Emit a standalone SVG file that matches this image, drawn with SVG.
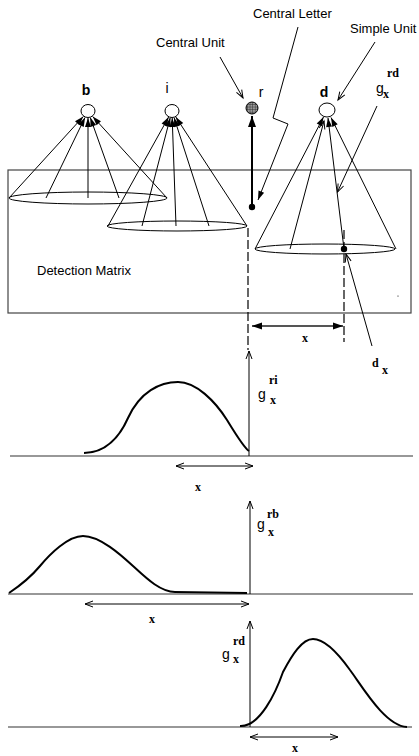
<svg xmlns="http://www.w3.org/2000/svg" width="419" height="756" viewBox="0 0 419 756">
<style>
.s{font-family:"Liberation Sans",Arial,sans-serif;font-size:13px;fill:#000}
.n{font-family:"Liberation Sans",Arial,sans-serif;font-size:14px;fill:#000}
.g{font-family:"Liberation Sans",Arial,sans-serif;font-size:14px;fill:#000}
.b{font-family:"Liberation Serif","Times New Roman",serif;font-weight:bold;font-size:12px;fill:#000}
.ln{stroke:#000;stroke-width:1;fill:none}
.cone{stroke:#000;stroke-width:1;fill:none;marker-end:url(#fa)}
.curve{stroke:#000;stroke-width:2;fill:none}
.base{stroke:#333;stroke-width:1.2;fill:none}
.dash{stroke:#000;stroke-width:1.2;stroke-dasharray:9,3;fill:none}
</style>
<defs>
<marker id="fa" markerUnits="userSpaceOnUse" markerWidth="10" markerHeight="6" refX="9" refY="3" orient="auto" overflow="visible"><path d="M0,0 L9,3 L0,6 z" fill="#000"/></marker>
<marker id="fab" markerUnits="userSpaceOnUse" markerWidth="12" markerHeight="8" refX="11" refY="4" orient="auto" overflow="visible"><path d="M0,0 L11,4 L0,8 z" fill="#000"/></marker>
<marker id="fx" markerUnits="userSpaceOnUse" markerWidth="11" markerHeight="7" refX="10" refY="3.5" orient="auto-start-reverse" overflow="visible"><path d="M0,0 L10,3.5 L0,7 z" fill="#000"/></marker>
<marker id="oa" markerUnits="userSpaceOnUse" markerWidth="9" markerHeight="6" refX="8" refY="3" orient="auto-start-reverse" overflow="visible"><path d="M0,0 L8,3 L0,6" fill="none" stroke="#000" stroke-width="1"/></marker>
<pattern id="grid" patternUnits="userSpaceOnUse" width="2.6" height="2.6"><rect width="2.6" height="2.6" fill="#999"/><path d="M0,0 H2.6 M0,0 V2.6" stroke="#222" stroke-width="0.9"/></pattern>
</defs>

<!-- Detection matrix -->
<g id="matrix">
<rect x="8" y="170" width="403" height="143" fill="none" stroke="#444" stroke-width="1.2"/>
<text class="s" x="37" y="275">Detection Matrix</text>
<circle cx="398" cy="296" r="0.6" fill="#000"/>
</g>

<!-- Nodes -->
<g id="node-b">
<text class="n" x="86" y="95" text-anchor="middle" font-weight="bold">b</text>
<ellipse cx="88" cy="111" rx="7" ry="6.5" fill="#fff" stroke="#000"/>
<ellipse cx="88" cy="198" rx="79" ry="6" class="ln"/>
</g>
<g id="node-i">
<text class="n" x="167" y="93" text-anchor="middle">i</text>
<ellipse cx="172" cy="111" rx="7" ry="6.5" fill="#fff" stroke="#000"/>
<ellipse cx="177" cy="226" rx="70" ry="5" class="ln"/>
</g>
<g id="node-r">
<text class="n" x="261" y="97" text-anchor="middle">r</text>
<circle cx="252" cy="108" r="6" fill="url(#grid)" stroke="#000"/>
<circle cx="252" cy="207" r="3.2" fill="#000"/>
</g>
<g id="node-d">
<text class="n" x="324" y="97" text-anchor="middle" font-weight="bold">d</text>
<ellipse cx="327" cy="110" rx="8" ry="7" fill="#fff" stroke="#000"/>
<ellipse cx="325" cy="249" rx="70" ry="5" class="ln"/>
<circle cx="344" cy="249" r="3.2" fill="#000"/>
</g>

<!-- Labels -->
<g id="labels">
<text class="s" x="156" y="47">Central Unit</text>
<text class="s" x="253" y="18">Central Letter</text>
<text class="s" x="350" y="33">Simple Unit</text>
<text class="g" x="376" y="93">g</text>
<text class="b" x="387" y="77">rd</text>
<text class="b" x="383" y="98">x</text>
<text class="b" x="372" y="367" font-size="13">d</text>
<text class="b" x="382" y="374">x</text>
<text class="b" x="302" y="342">x</text>
</g>

<!-- Connectors -->
<g id="connectors">
<!-- cone b -->
<line class="cone" x1="9" y1="198" x2="83.3" y2="116.5"/>
<line class="cone" x1="46" y1="198" x2="85" y2="117.5"/>
<line class="cone" x1="88" y1="198" x2="88" y2="118"/>
<line class="cone" x1="119" y1="198" x2="90.3" y2="117.6"/>
<line class="cone" x1="167" y1="198" x2="92.7" y2="116.5"/>
<!-- cone i -->
<line class="cone" x1="108" y1="226" x2="168.6" y2="117.1"/>
<line class="cone" x1="142" y1="226" x2="170.2" y2="117.8"/>
<line class="cone" x1="176" y1="226" x2="172.2" y2="118"/>
<line class="cone" x1="209" y1="226" x2="174.1" y2="117.7"/>
<line class="cone" x1="247" y1="226" x2="175.8" y2="117"/>
<!-- cone d -->
<line class="cone" x1="255" y1="249" x2="323.5" y2="117"/>
<line class="ln" x1="290" y1="249" x2="324" y2="121" marker-end="url(#oa)"/>
<line class="cone" x1="344" y1="249" x2="328" y2="118"/>
<line class="cone" x1="396" y1="249" x2="331" y2="117.5"/>
<!-- r thick arrow -->
<line x1="252" y1="205" x2="252" y2="116" stroke="#000" stroke-width="2" marker-end="url(#fab)"/>
<!-- pointer arrows -->
<line class="ln" x1="220" y1="57" x2="243" y2="98" marker-end="url(#oa)"/>
<line class="ln" x1="375" y1="42" x2="338" y2="100" marker-end="url(#oa)"/>
<polyline class="ln" points="298,27 273,118 288,124 258,200" marker-end="url(#fa)"/>
<line class="ln" x1="377" y1="106" x2="337.5" y2="192" marker-end="url(#oa)"/>
<line class="ln" x1="372" y1="346" x2="346" y2="254" marker-end="url(#oa)"/>
<!-- dashed guides -->
<line class="dash" x1="248" y1="228" x2="248" y2="350"/>
<line class="dash" x1="344" y1="230" x2="344" y2="342"/>
<!-- x span -->
<line x1="252" y1="326" x2="343" y2="326" stroke="#555" stroke-width="2" marker-start="url(#fx)" marker-end="url(#fx)"/>
</g>

<!-- Graph 1: g^ri -->
<g id="graph-ri">
<line class="base" x1="10" y1="456" x2="413" y2="456"/>
<line class="ln" x1="249" y1="456" x2="249" y2="351" marker-end="url(#oa)"/>
<path class="curve" d="M84,453 C106,453 120,436 128,418 C140,391.6 160,382 178,382 C196,382 215,401 227,420 C235,433 244,448 249,451"/>
<text class="g" x="258" y="399">g</text>
<text class="b" x="269" y="384">ri</text>
<text class="b" x="270" y="404">x</text>
<line class="ln" x1="176" y1="466" x2="253" y2="466" marker-start="url(#oa)" marker-end="url(#oa)"/>
<text class="b" x="195" y="491">x</text>
</g>

<!-- Graph 2: g^rb -->
<g id="graph-rb">
<line class="base" x1="8" y1="594" x2="413" y2="594"/>
<line class="ln" x1="250" y1="594" x2="250" y2="501" marker-end="url(#oa)"/>
<path class="curve" d="M9,593 C18,587 32,575.6 40,566 C50,554 68,536 83,536 C100,536 121,555 133,566 C145,577 160,592 175,592 L247,593"/>
<text class="g" x="257" y="529">g</text>
<text class="b" x="267" y="518">rb</text>
<text class="b" x="268" y="536">x</text>
<line class="ln" x1="85" y1="604" x2="249" y2="604" marker-start="url(#oa)" marker-end="url(#oa)"/>
<text class="b" x="149" y="623">x</text>
</g>

<!-- Graph 3: g^rd -->
<g id="graph-rd">
<line class="base" x1="8" y1="727" x2="412" y2="727"/>
<line class="ln" x1="250" y1="727" x2="250" y2="621" marker-end="url(#oa)"/>
<path class="curve" d="M240,726 C260,727 276,692 283,672 C292,655 302,639 313,639 C326,639 340,656 350,670 C362,686 385,726 407,727"/>
<text class="g" x="222" y="659">g</text>
<text class="b" x="233" y="645">rd</text>
<text class="b" x="233" y="663">x</text>
<line class="ln" x1="250" y1="737" x2="338" y2="737" marker-start="url(#oa)" marker-end="url(#oa)"/>
<text class="b" x="292" y="752">x</text>
</g>
</svg>
